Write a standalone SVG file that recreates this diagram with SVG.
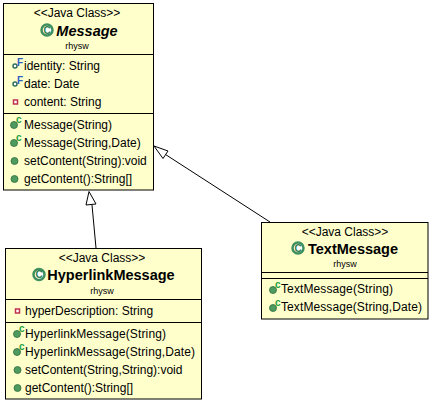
<svg xmlns="http://www.w3.org/2000/svg" width="432" height="403" viewBox="0 0 432 403">
<style>
text{font-family:"Liberation Sans",Arial,sans-serif;fill:#000}
.box{fill:#ffffcc;stroke:#000;stroke-width:1}
.sep{stroke:#000;stroke-width:1;fill:none}
.st{font-size:12px;text-anchor:middle}
.pk{font-size:9px;text-anchor:middle}
.nm{font-size:14.500px;font-weight:bold;text-anchor:middle}
.it{font-style:italic}
.m{font-size:12px}
.pub{fill:#4f9a5f;stroke:#2f6f3f;stroke-width:.8}
.cm{fill:#1f9f3f;font-size:10px;font-weight:bold}
.fm{fill:#2f5fc0;font-size:10px;font-weight:bold}
.pf{fill:#fff;stroke:#2f6f5f;stroke-width:1.500}
.pr{fill:#fff;stroke:#c0304f;stroke-width:1.500}
.cl{fill:#fff;stroke:#3f8f5f;stroke-width:2.500}
.ci{font-size:10px;font-weight:bold;fill:#2f7f4f;text-anchor:middle}
.conn{stroke:#000;stroke-width:1;fill:none}
.head{stroke:#000;stroke-width:1;fill:#fff}
</style>
<defs>
<g id="ctor"><circle cx="0" cy="1" r="3.500" class="pub"/><text x="2" y="-1" class="cm">c</text></g>
<circle id="pubm" r="3.500" class="pub"/>
<g id="field"><circle r="2" class="pf"/><text x="2" y="-0.500" class="fm">F</text></g>
<rect id="priv" x="-2" y="-2" width="4" height="4" class="pr"/>
<g id="cicon"><circle r="5.500" class="cl"/><text y="3.500" class="ci">C</text></g>
</defs>
<g id="connectors">
<path class="conn" d="M92 205L96 248"/>
<path class="head" d="M89 191.500L86 205L96 204Z"/>
<path class="conn" d="M165.500 154.500L270 222"/>
<path class="head" d="M154 146L168 151L163 158.500Z"/>
</g>
<g id="message">
<rect class="box" x="3.500" y="3.500" width="150" height="186.500"/>
<path class="sep" d="M3.500 54.500H153.500M3.500 113.500H153.500"/>
<text class="st" x="77" y="17">&lt;&lt;Java Class&gt;&gt;</text>
<use href="#cicon" x="47" y="30"/>
<text class="nm it" x="87" y="36">Message</text>
<text class="pk" x="77" y="49">rhysw</text>
<use href="#field" x="15" y="66"/><text class="m" x="24" y="70">identity: String</text>
<use href="#field" x="15" y="84"/><text class="m" x="24" y="88">date: Date</text>
<use href="#priv" x="15.500" y="102"/><text class="m" x="24" y="106">content: String</text>
<use href="#ctor" x="14" y="124"/><text class="m" x="24" y="129">Message(String)</text>
<use href="#ctor" x="14" y="142"/><text class="m" x="24" y="147">Message(String,Date)</text>
<use href="#pubm" x="14.500" y="161"/><text class="m" x="24" y="165">setContent(String):void</text>
<use href="#pubm" x="14.500" y="179"/><text class="m" x="24" y="183">getContent():String[]</text>
</g>
<g id="hyperlinkmessage">
<rect class="box" x="5.500" y="248.500" width="196" height="150.500"/>
<path class="sep" d="M5.500 299.500H201.500M5.500 322.500H201.500"/>
<text class="st" x="102" y="262">&lt;&lt;Java Class&gt;&gt;</text>
<use href="#cicon" x="39" y="274.500"/>
<text class="nm" x="111" y="280">HyperlinkMessage</text>
<text class="pk" x="102" y="294">rhysw</text>
<use href="#priv" x="17.500" y="311"/><text class="m" x="25" y="315">hyperDescription: String</text>
<use href="#ctor" x="17" y="333"/><text class="m" x="25" y="338" textLength="141">HyperlinkMessage(String)</text>
<use href="#ctor" x="17" y="351"/><text class="m" x="25" y="356" textLength="170">HyperlinkMessage(String,Date)</text>
<use href="#pubm" x="17.500" y="370"/><text class="m" x="25" y="374">setContent(String,String):void</text>
<use href="#pubm" x="17.500" y="388"/><text class="m" x="25" y="392">getContent():String[]</text>
</g>
<g id="textmessage">
<rect class="box" x="261.500" y="222.500" width="166.500" height="96.500"/>
<path class="sep" d="M261.500 272.500H428M261.500 278.500H428"/>
<text class="st" x="345" y="236">&lt;&lt;Java Class&gt;&gt;</text>
<use href="#cicon" x="298" y="248"/>
<text class="nm" x="353" y="254">TextMessage</text>
<text class="pk" x="345" y="267">rhysw</text>
<use href="#ctor" x="273" y="289"/><text class="m" x="281" y="293" textLength="112">TextMessage(String)</text>
<use href="#ctor" x="273" y="307"/><text class="m" x="281" y="311" textLength="141">TextMessage(String,Date)</text>
</g>
</svg>
